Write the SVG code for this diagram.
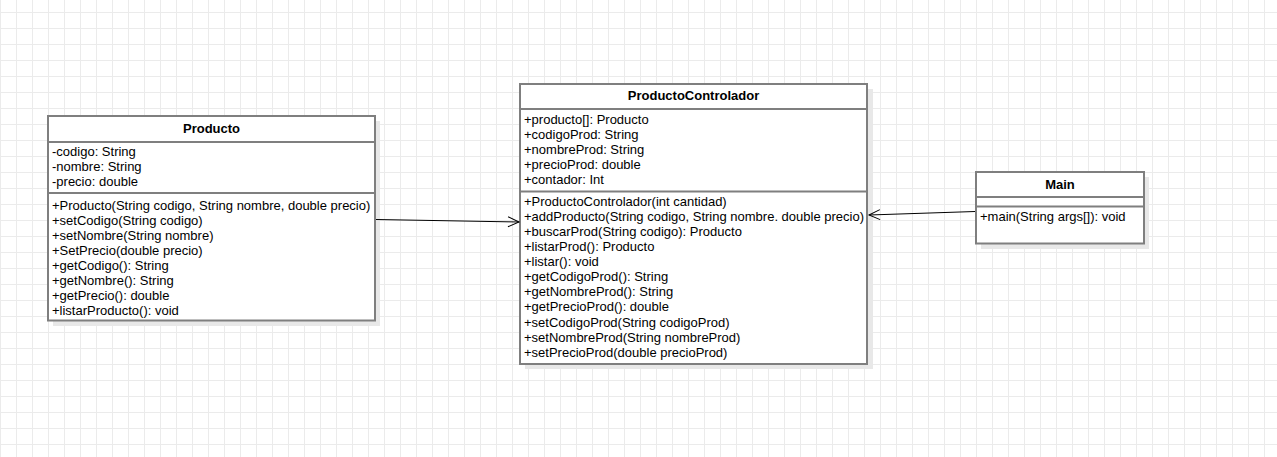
<svg xmlns="http://www.w3.org/2000/svg" width="1277" height="457" viewBox="0 0 1277 457">
<style>
.box{fill:#ffffff;stroke:#7f7f7f;stroke-width:2}
.shadow{fill:#e8e8e8}
.sep{stroke:#7f7f7f;stroke-width:2}
.t{font-family:"Liberation Sans",Arial,sans-serif;font-size:13px;fill:#000}
.h{font-family:"Liberation Sans",Arial,sans-serif;font-size:13px;font-weight:bold;fill:#000;text-anchor:middle}
.conn{stroke:#000;stroke-width:1;fill:none}
</style>
<defs>
<pattern id="grid" x="0" y="12" width="16" height="16" patternUnits="userSpaceOnUse">
<path d="M0.5 0V16M0 0.5H16" stroke="#ebebeb" stroke-width="1" fill="none"/>
</pattern>
<marker id="open" markerWidth="14" markerHeight="14" refX="12" refY="7" orient="auto" markerUnits="userSpaceOnUse">
<path d="M1 2L12 7L1 12" fill="none" stroke="#000" stroke-width="1"/>
</marker>
</defs>
<rect width="1277" height="457" fill="#ffffff"/>
<rect width="1277" height="457" fill="url(#grid)"/>

<g id="Producto">
<rect class="shadow" x="53" y="121" width="327" height="205"/>
<rect class="box" x="48" y="116" width="327" height="204.5"/>
<line class="sep" x1="48" y1="142" x2="375" y2="142"/>
<line class="sep" x1="48" y1="193" x2="375" y2="193"/>
<text class="h" x="211.5" y="133">Producto</text>
<text class="t" x="52" y="156">-codigo: String</text>
<text class="t" x="52" y="171">-nombre: String</text>
<text class="t" x="52" y="186">-precio: double</text>
<text class="t" x="52" y="210">+Producto(String codigo, String nombre, double precio)</text>
<text class="t" x="52" y="225">+setCodigo(String codigo)</text>
<text class="t" x="52" y="240">+setNombre(String nombre)</text>
<text class="t" x="52" y="255">+SetPrecio(double precio)</text>
<text class="t" x="52" y="270">+getCodigo(): String</text>
<text class="t" x="52" y="285">+getNombre(): String</text>
<text class="t" x="52" y="300">+getPrecio(): double</text>
<text class="t" x="52" y="315">+listarProducto(): void</text>
</g>

<g id="ProductoControlador">
<rect class="shadow" x="525" y="89" width="348" height="280"/>
<rect class="box" x="520" y="84" width="347" height="280"/>
<line class="sep" x1="520" y1="109" x2="867" y2="109"/>
<line class="sep" x1="520" y1="191.5" x2="867" y2="191.5"/>
<text class="h" x="693.5" y="100">ProductoControlador</text>
<text class="t" x="524" y="123.5">+producto[]: Producto</text>
<text class="t" x="524" y="138.5">+codigoProd: String</text>
<text class="t" x="524" y="153.5">+nombreProd: String</text>
<text class="t" x="524" y="168.5">+precioProd: double</text>
<text class="t" x="524" y="184">+contador: Int</text>
<text class="t" x="524" y="205.5">+ProductoControlador(int cantidad)</text>
<text class="t" x="524" y="220.5">+addProducto(String codigo, String nombre. double precio)</text>
<text class="t" x="524" y="235.5">+buscarProd(String codigo): Producto</text>
<text class="t" x="524" y="251">+listarProd(): Producto</text>
<text class="t" x="524" y="266">+listar(): void</text>
<text class="t" x="524" y="281">+getCodigoProd(): String</text>
<text class="t" x="524" y="296">+getNombreProd(): String</text>
<text class="t" x="524" y="311">+getPrecioProd(): double</text>
<text class="t" x="524" y="326.5">+setCodigoProd(String codigoProd)</text>
<text class="t" x="524" y="341.5">+setNombreProd(String nombreProd)</text>
<text class="t" x="524" y="356.5">+setPrecioProd(double precioProd)</text>
</g>

<g id="Main">
<rect class="shadow" x="981" y="177" width="168" height="72"/>
<rect class="box" x="976" y="172" width="168" height="71.5"/>
<line class="sep" x1="976" y1="197" x2="1144" y2="197"/>
<line class="sep" x1="976" y1="206.5" x2="1144" y2="206.5"/>
<text class="h" x="1060" y="188.5">Main</text>
<text class="t" x="980" y="221">+main(String args[]): void</text>
</g>

<g id="connectors">
<line class="conn" x1="376" y1="219.5" x2="519" y2="222" marker-end="url(#open)"/>
<line class="conn" x1="975" y1="211.5" x2="869" y2="215" marker-end="url(#open)"/>
</g>
</svg>
